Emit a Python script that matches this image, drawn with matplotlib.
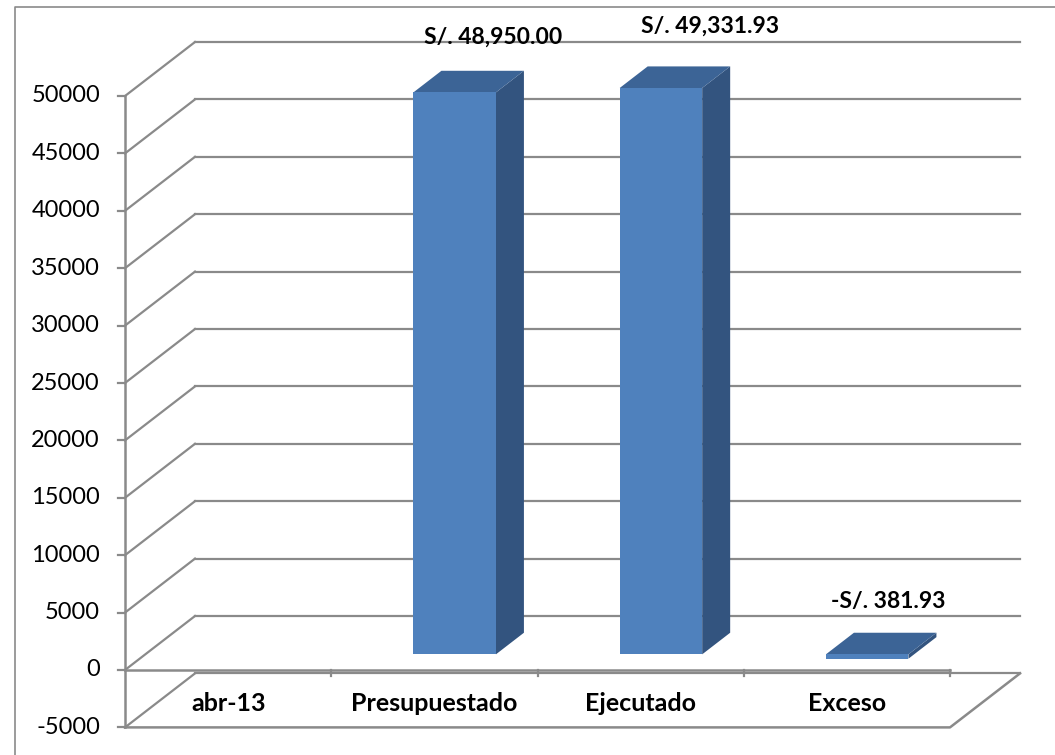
import matplotlib.pyplot as plt
from matplotlib.patches import Polygon
import numpy as np

# data
categories = ['abr-13', 'Presupuestado', 'Ejecutado', 'Exceso']
values = [np.nan, 48950.00, 49331.93, -381.93]
value_labels = ['', 'S/. 48,950.00', 'S/. 49,331.93', '-S/. 381.93']
y_ticks = list(range(-5000, 50001, 5000))

# label nudges in pixels (from top-back of bar)
label_nudge = [(0, 0), (10, 34), (21, 40), (-7, 31)]

plt.rcParams['font.family'] = ['Lato', 'DejaVu Sans']

# oblique 3d look: scale of the picture
W, H = 1055, 755
x0_px, y0_px = 125, 670          # front origin (category 0, value 0)
cat_px = 206.25                  # pixels per category
val_px = 57.4 / 5000             # pixels per value unit
DX = 70 / cat_px                 # depth offset in category units
DY = 54 / val_px                 # depth offset in value units
d0, d1 = 0.29, 0.69              # bar front/back depth
bar_w = 0.40
ymin = y_ticks[0]
ncat = len(categories)

grid_col = '#8a8a8a'
front_col = '#4f81bd'
side_col = '#33547f'
top_col = '#3c6496'


def P(x, y, d):
    return (x + d * DX, y + d * DY)


fig = plt.figure(figsize=(W / 100, H / 100), dpi=100)
ax = fig.add_axes([0, 0, 1, 1])
ax.set_xlim(-x0_px / cat_px, (W - x0_px) / cat_px)
ax.set_ylim(-(H - y0_px) / val_px, y0_px / val_px)
ax.axis('off')

# outer border
ax.plot([0.0142, 0.0142, 1.0], [0.0, 0.9907, 0.9907], transform=ax.transAxes,
        color=grid_col, lw=1.2)

# back wall gridlines and side wall diagonals
for v in y_ticks:
    a, b = P(0, v, 1), P(ncat, v, 1)
    ax.plot([a[0], b[0]], [a[1], b[1]], color=grid_col, lw=1.6, zorder=1)
    c = P(0, v, 0)
    ax.plot([c[0], a[0]], [c[1], a[1]], color=grid_col, lw=1.6, zorder=1)

# floor
f = [P(0, ymin, 0), P(ncat, ymin, 0), P(ncat, ymin, 1)]
ax.plot([p[0] for p in f], [p[1] for p in f], color=grid_col, lw=1.8, zorder=1)

# value axis
ax.plot([0, 0], [ymin, y_ticks[-1]], color=grid_col, lw=1.8, zorder=4)
tick_len = 7 / cat_px
for v in y_ticks:
    ax.plot([-tick_len, 0], [v, v], color=grid_col, lw=1.6, zorder=4)
    ax.text(-25 / cat_px, v, str(v), ha='right', va='center', fontsize=17,
            color='black')

# category axis at zero
ax.plot([0, ncat], [0, 0], color=grid_col, lw=1.8, zorder=4)
for i in range(1, ncat + 1):
    ax.plot([i, i], [0, -6 / val_px], color=grid_col, lw=1.6, zorder=4)

for i, name in enumerate(categories):
    ax.text(i + 0.5, -2900, name, ha='center', va='center', fontsize=18,
            fontweight='bold', color='black')

# bars
for i, v in enumerate(values):
    if np.isnan(v):
        continue
    lo, hi = min(0, v), max(0, v)
    xl = i + 0.5 - bar_w / 2
    xr = i + 0.5 + bar_w / 2
    front = [P(xl, lo, d0), P(xr, lo, d0), P(xr, hi, d0), P(xl, hi, d0)]
    side = [P(xr, lo, d0), P(xr, lo, d1), P(xr, hi, d1), P(xr, hi, d0)]
    top = [P(xl, hi, d0), P(xr, hi, d0), P(xr, hi, d1), P(xl, hi, d1)]
    ax.add_patch(Polygon(side, closed=True, facecolor=side_col, edgecolor='none', zorder=3))
    ax.add_patch(Polygon(top, closed=True, facecolor=top_col, edgecolor='none', zorder=3))
    ax.add_patch(Polygon(front, closed=True, facecolor=front_col, edgecolor='none', zorder=3))

    anchor = P(i + 0.5, hi, d1)
    nx, ny = label_nudge[i]
    ax.annotate(value_labels[i], xy=anchor, xytext=(nx * 0.72, ny * 0.72),
                textcoords='offset points', ha='center', va='center',
                fontsize=16.5, fontweight='bold', color='black', zorder=5)

fig.savefig('out.png', dpi=100)
